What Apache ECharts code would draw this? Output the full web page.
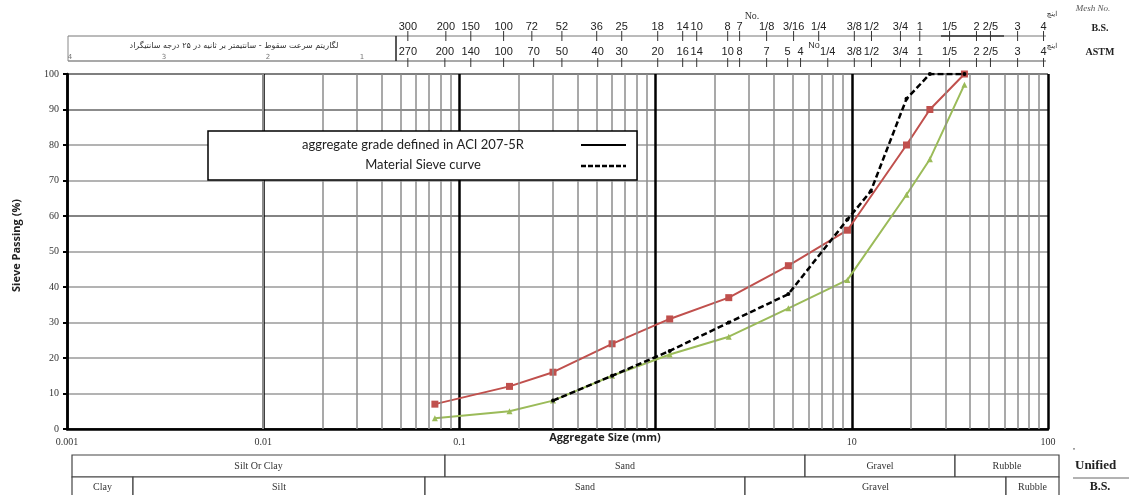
<!DOCTYPE html>
<html><head><meta charset="utf-8">
<script src="https://cdn.jsdelivr.net/npm/echarts@6/dist/echarts.min.js"></script>
<style>html,body{margin:0;padding:0;background:#fff}#c{width:1129px;height:495px}</style>
</head><body><div id="c"></div>
<script>
// ---- data ----
const sieveSizes = [0.075, 0.18, 0.3, 0.6, 1.18, 2.36, 4.75, 9.5, 19, 25, 37.5];
const aciUpper = [7, 12, 16, 24, 31, 37, 46, 56, 80, 90, 100];
const aciLower = [3, 5, 8, 15, 21, 26, 34, 42, 66, 76, 97];
const materialSizes = [0.3, 0.6, 1.18, 2.36, 4.75, 9.5, 12.5, 19, 25, 37.5];
const materialPassing = [8, 15, 22, 30, 38, 59, 67, 93, 100, 100];

const legendNames = ['aggregate grade defined in ACI 207-5R', 'Material Sieve curve'];
const bsLabels = ['300','200','150','100','72','52','36','25','18','14','10','8','7','1/8','3/16','1/4','3/8','1/2','3/4','1','1/5','2','2/5','3','4'];
const bsSizes = [0.0546,0.0853,0.1143,0.168,0.234,0.333,0.501,0.672,1.025,1.374,1.62,2.33,2.68,3.68,5.05,6.78,10.3,12.6,17.7,22.2,31.5,43.2,50.9,70.0,94.9];
const astmLabels = ['270','200','140','100','70','50','40','30','20','16','14','10','8','7','5','4','1/4','3/8','1/2','3/4','1','1/5','2','2/5','3','4'];
const astmSizes = [0.0546,0.0843,0.1143,0.168,0.239,0.333,0.507,0.672,1.025,1.374,1.62,2.33,2.68,3.68,4.71,5.48,7.54,10.3,12.6,17.7,22.2,31.5,43.2,50.9,70.0,94.9];
const unifiedRow = ['Silt Or Clay', 'Sand', 'Gravel', 'Rubble'];
const bsRow = ['Clay', 'Silt', 'Sand', 'Gravel', 'Rubble'];
const persianTitle = 'لگاریتم سرعت سقوط - سانتیمتر بر ثانیه در ۲۵ درجه سانتیگراد';
const persianTicks = ['4', '3', '2', '1'];

// ---- chart ----
const chart = echarts.init(document.getElementById('c'));
const minorVals = [];
for (let d = -3; d < 2; d++) for (let k = 2; k <= 9; k++) minorVals.push(+(k * Math.pow(10, d)).toPrecision(6));
const hColors = ['#000','#9a9a9a','#9a9a9a','#9a9a9a','#9a9a9a','#9a9a9a','#5a5a5a','#9a9a9a','#9a9a9a','#666','#555'];
const serif = '"Liberation Serif", "DejaVu Serif", serif';
const sans = '"Open Sans", "Liberation Sans", sans-serif';

chart.setOption({
  animation: false,
  grid: { left: 67, right: 81, top: 74, bottom: 66 },
  xAxis: {
    type: 'log', logBase: 10, min: 0.001, max: 100,
    axisLine: { lineStyle: { color: '#000', width: 2.5 } },
    axisTick: { show: false },
    axisLabel: { margin: 8, fontFamily: serif, fontSize: 10, color: '#333',
      formatter: v => Math.abs(v - 1) < 1e-9 ? '' : String(+(+v).toPrecision(6)) },
    splitLine: { show: true, lineStyle: { color: '#000', width: 2.5 } },
    name: 'Aggregate Size (mm)', nameLocation: 'middle', nameGap: 3, nameMoveOverlap: false,
    nameTextStyle: { fontFamily: sans, fontWeight: 'bold', fontSize: 11, color: '#222', padding: [0, 0, 0, 95] }
  },
  yAxis: {
    type: 'value', min: 0, max: 100, interval: 10,
    axisLine: { show: true, lineStyle: { color: '#000', width: 2.5 } },
    axisTick: { show: true, length: 4, lineStyle: { color: '#000', width: 2 } },
    axisLabel: { margin: 8, fontFamily: serif, fontSize: 10, color: '#333' },
    splitLine: { show: true, lineStyle: { color: hColors, width: 1.5 } },
    name: 'Sieve Passing (%)', nameLocation: 'middle', nameGap: 45, nameMoveOverlap: false,
    nameTextStyle: { fontFamily: sans, fontWeight: 'bold', fontSize: 11, color: '#222', padding: [0, 0, 0, 12] }
  },
  series: [
    { type: 'line', name: 'minor', data: [], silent: true, z: 1,
      markLine: { silent: true, symbol: 'none', animation: false, label: { show: false },
        lineStyle: { color: '#8c8c8c', width: 1.5, type: 'solid' },
        data: minorVals.map(v => ({ xAxis: v })) } },
    { type: 'line', name: 'lower', z: 3, data: sieveSizes.map((s, i) => [s, aciLower[i]]),
      symbol: 'triangle', symbolSize: 6, itemStyle: { color: '#9bbb59' },
      lineStyle: { color: '#9bbb59', width: 2 } },
    { type: 'line', name: 'upper', z: 4, data: sieveSizes.map((s, i) => [s, aciUpper[i]]),
      symbol: 'rect', symbolSize: 7, itemStyle: { color: '#c0504d' },
      lineStyle: { color: '#c0504d', width: 2 } },
    { type: 'line', name: 'material', z: 5, data: materialSizes.map((s, i) => [s, materialPassing[i]]),
      symbol: 'circle', symbolSize: 4, itemStyle: { color: '#000' },
      lineStyle: { color: '#000', width: 2.5, type: [6, 3] } }
  ]
});

// ---- decorative graphics (header scales, legend box, classification table) ----
const px = v => chart.convertToPixel({ xAxisIndex: 0 }, v);
const g = [];
function txt(x, y, text, font, fill, align) {
  g.push({ type: 'text', z: 100, x: x, y: y, style: { text: text, font: font, fill: fill || '#222',
    align: align || 'center', textAlign: align || 'center', verticalAlign: 'middle', textVerticalAlign: 'middle' } });
}
function ln(x1, y1, x2, y2, stroke, w, dash) {
  g.push({ type: 'line', z: 100, shape: { x1: x1, y1: y1, x2: x2, y2: y2 },
    style: { stroke: stroke || '#333', lineWidth: w || 1, lineDash: dash || null } });
}
function rect(x, y, w, h, stroke, lw) {
  g.push({ type: 'rect', z: 99, shape: { x: x, y: y, width: w, height: h },
    style: { fill: '#fff', stroke: stroke || '#444', lineWidth: lw || 1 } });
}
// header box + scale lines
ln(68, 36, 1046, 36, '#777', 1);
ln(68, 61, 1046, 61, '#555', 1.2);
ln(941, 36, 1004, 36, '#555', 2);
ln(68, 36, 68, 61, '#888', 1);
ln(396, 36, 396, 61, '#222', 1.5);
txt(234, 46, persianTitle, '8px "DejaVu Sans"', '#333');
[70, 164, 268, 362].forEach((x, i) => txt(x, 57, persianTicks[i], '7px "DejaVu Sans"', '#777'));
bsLabels.forEach((l, i) => { const x = px(bsSizes[i]); txt(x, 27, l, '11px "Liberation Sans"', '#222'); ln(x, 31, x, 41, '#333', 1); });
astmLabels.forEach((l, i) => { const x = px(astmSizes[i]); txt(x, 52, l, '11px "Liberation Sans"', '#222'); ln(x, 58, x, 67, '#333', 1); });
txt(752, 16, 'No.', '10px ' + serif, '#333');
txt(814, 46, 'No', '9px "Liberation Sans"', '#333');
txt(1052, 14, 'اینچ', '7px "DejaVu Sans"', '#333');
txt(1052, 46, 'اینچ', '7px "DejaVu Sans"', '#333');
txt(1093, 9, 'Mesh No.', 'italic 9px ' + serif, '#555');
txt(1100, 28, 'B.S.', 'bold 10px ' + serif, '#222');
txt(1100, 52, 'ASTM', 'bold 10px ' + serif, '#222');
// legend box
rect(208, 131, 429, 49, '#000', 1.5);
txt(413, 145, legendNames[0], '13px Lato', '#222');
txt(423, 165, legendNames[1], '13px Lato', '#222');
ln(581, 145, 626, 145, '#000', 2);
ln(581, 166, 626, 166, '#000', 2.5, [5, 2]);
// classification table
const row1 = [[72, 445], [445, 805], [805, 955], [955, 1059]];
const row2 = [[72, 133], [133, 425], [425, 745], [745, 1006], [1006, 1059]];
row1.forEach((e, i) => { rect(e[0], 455, e[1] - e[0], 22, '#444', 1.2); txt((e[0] + e[1]) / 2, 466, unifiedRow[i], '10px ' + serif, '#333'); });
row2.forEach((e, i) => { rect(e[0], 477, e[1] - e[0], 22, '#444', 1.2); txt((e[0] + e[1]) / 2, 487, bsRow[i], '10px ' + serif, '#333'); });
txt(1075, 466, 'Unified', 'bold 13px ' + serif, '#222', 'left');
ln(1073, 478, 1129, 478, '#666', 1);
txt(1100, 487, 'B.S.', 'bold 12px ' + serif, '#222');
txt(1074, 452, "'", 'bold 9px ' + serif, '#333');
chart.setOption({ graphic: { elements: g } });
</script></body></html>
